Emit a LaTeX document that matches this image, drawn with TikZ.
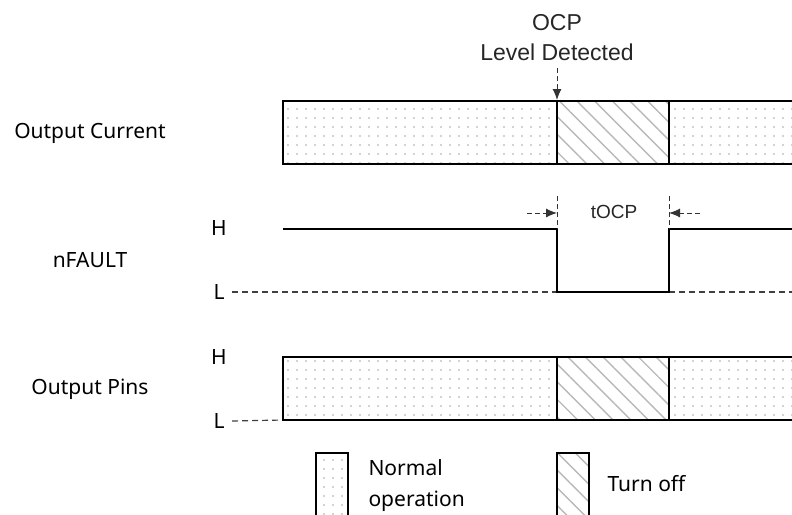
\documentclass[tikz,border=0pt]{standalone}
\usepackage{fontspec}
\setmainfont{Noto Sans}
\newfontfamily\thinfont{Liberation Sans}
\usetikzlibrary{arrows.meta,patterns.meta}

\begin{document}
\begin{tikzpicture}[x=1pt,y=-1pt,
  label text/.style={font=\fontsize{21}{31}\selectfont},
  note text/.style={font=\thinfont\fontsize{23}{29}\selectfont,text=black!85},
  bar/.style={draw=black,line width=1.6pt},
  normal fill/.style={pattern={Dots[radius=0.85pt,distance=9pt]},pattern color=black!35},
  off fill/.style={pattern={Lines[angle=-45,distance=12.5pt,line width=1.4pt]},pattern color=black!28},
  level/.style={line width=1.5pt},
  low level/.style={black!75,dash pattern=on 6pt off 4pt,line width=1.2pt},
  mark line/.style={black!80,dash pattern=on 5pt off 3pt,line width=1pt},
  tip/.style={-{Latex[length=11pt,width=9pt]}}]
  \clip (0,0) rectangle (792,514);
  % signal names
  \node (cur) at (90,133) [label text] {Output Current};
  \node (flt) at (90,260) [label text] {nFAULT};
  \node (pin) at (90,389) [label text] {Output Pins};
  \node (fh) at (219,228) [label text] {H};
  \node (fl) at (219,292) [label text] {L};
  \node (ph) at (219,357) [label text] {H};
  \node (pl) at (219,421) [label text] {L};
  % detection note
  \node (ocp) at (557,23) [note text] {OCP};
  \node (lvl) at (557,52) [note text] {Level Detected};
  \coordinate (det0) at (557,68);
  \coordinate (det) at (557,100);
  \draw[mark line,tip] (det0) to (det);
  % output current bar
  \path[normal fill] (283,101) rectangle (557,164);
  \path[off fill] (557,101) rectangle (669,164);
  \path[normal fill] (669,101) rectangle (800,164);
  \draw[bar] (800,101) -- (283,101) -- (283,164) -- (800,164);
  \draw[bar] (557,101) -- (557,164) (669,101) -- (669,164);
  % nFAULT
  \coordinate (a0) at (527,213);
  \coordinate (a1) at (557,213);
  \coordinate (b0) at (700,213);
  \coordinate (b1) at (669,213);
  \draw[low level] (fl.east) ++(4,0) -- (557,292);
  \draw[low level] (669,292) -- (800,292);
  \draw[level] (283,229) -- (557,229) -- (557,292) -- (669,292) -- (669,229) -- (800,229);
  \draw[mark line] (557,196) -- (557,229) (669,196) -- (669,229);
  \draw[mark line,tip] (a0) to (a1);
  \draw[mark line,tip] (b0) to (b1);
  \node (tocp) at (614,212) [note text,font=\thinfont\fontsize{19}{22}\selectfont] {tOCP};
  % output pins bar
  \draw[low level] (pl.east) ++(4,0) -- (283,420);
  \path[normal fill] (283,357) rectangle (557,420);
  \path[off fill] (557,357) rectangle (669,420);
  \path[normal fill] (669,357) rectangle (800,420);
  \draw[bar] (800,357) -- (283,357) -- (283,420) -- (800,420);
  \draw[bar] (557,357) -- (557,420) (669,357) -- (669,420);
  % legend
  \path[normal fill] (316,453) rectangle (348,520);
  \draw[bar] (316,520) -- (316,453) -- (348,453) -- (348,520);
  \node (nrm) at (365,486) [label text,anchor=west,align=left] {Normal\\operation};
  \path[off fill] (557,453) rectangle (589,520);
  \draw[bar] (557,520) -- (557,453) -- (589,453) -- (589,520);
  \node (off) at (604,484) [label text,anchor=west] {Turn off};
\end{tikzpicture}
\end{document}
